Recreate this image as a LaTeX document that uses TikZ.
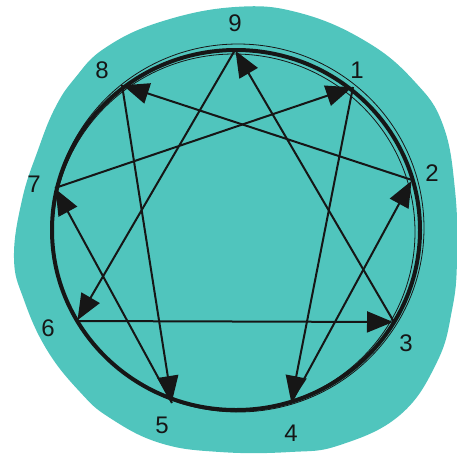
\documentclass[tikz,border=0pt]{standalone}
\usepackage{fontspec}
\setmainfont{Liberation Sans}
\usetikzlibrary{arrows.meta}
\definecolor{blob}{RGB}{80,197,189}
\definecolor{ink}{RGB}{22,22,22}
\begin{document}
\begin{tikzpicture}[x=1pt,y=-1pt,
  chord/.style={draw=ink,line width=2pt,-{Triangle[length=26pt,width=21pt]},shorten >=1pt},
  lbl/.style={font=\fontsize{24}{24}\selectfont,text=ink,inner sep=0pt}]
\useasboundingbox (0,0) rectangle (457,456);
% background blob
\fill[blob] plot[smooth cycle,tension=0.7] coordinates {
 (235,7) (300,13) (367,42) (415,82) (443,125) (455,190) (457,260) (452,310)
 (437,362) (400,415) (340,445) (290,452) (220,452) (160,443) (110,418) (80,392)
 (47,350) (24,300) (14,258) (22,200) (38,150) (55,108) (75,78) (105,48) (160,22)};
% hand-drawn circle
\draw[ink,line width=4pt] (236,230) ellipse [x radius=184,y radius=180];
\draw[ink,line width=0.8pt] (238,228) ellipse [x radius=186,y radius=184];
\draw[ink,line width=0.8pt] (234,232) ellipse [x radius=181,y radius=178];
% points
\coordinate (p9) at (235,50);
\coordinate (p1) at (353,87);
\coordinate (p2) at (412,180);
\coordinate (p3) at (394,322);
\coordinate (p4) at (291,403);
\coordinate (p5) at (172,403);
\coordinate (p6) at (77,321);
\coordinate (p7) at (55,188);
\coordinate (p8) at (122,85);
% connectors
\draw[chord] (p7) -- (p1);
\draw[chord] (p2) -- (p8);
\draw[chord] (p3) -- (p9);
\draw[chord] (p9) -- (p6);
\draw[chord] (p6) -- (p3);
\draw[chord] (p8) -- (p5);
\draw[chord] (p1) -- (p4);
\draw[chord] (p4) -- (p2);
\draw[chord] (p5) -- (p7);
% labels
\node[lbl] (l9) at (235,23) {9};
\node[lbl] (l1) at (357,70) {1};
\node[lbl] (l2) at (432,173) {2};
\node[lbl] (l3) at (406,343) {3};
\node[lbl] (l4) at (291,433) {4};
\node[lbl] (l5) at (162,425) {5};
\node[lbl] (l6) at (48,328) {6};
\node[lbl] (l7) at (34,184) {7};
\node[lbl] (l8) at (102,70) {8};
\end{tikzpicture}
\end{document}
